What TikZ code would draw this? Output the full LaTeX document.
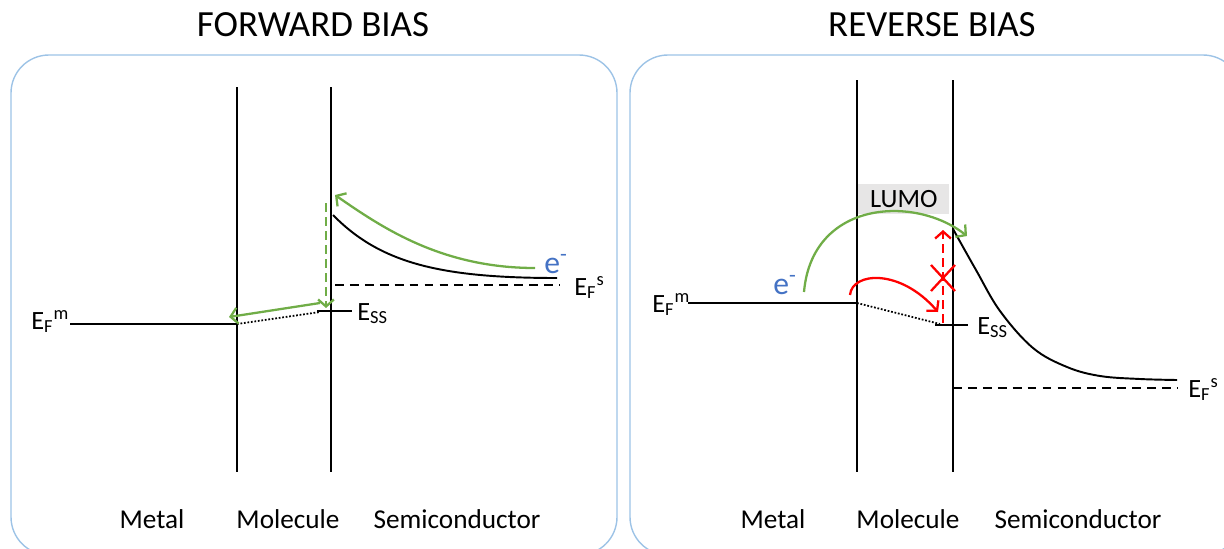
\documentclass[tikz,border=0pt]{standalone}
\usepackage{fontspec}
\setmainfont{Carlito}
\usetikzlibrary{arrows.meta}
\definecolor{boxblue}{HTML}{9DC3E6}
\definecolor{grn}{HTML}{70AD47}
\definecolor{eblue}{HTML}{4472C4}
\definecolor{lumogray}{HTML}{E7E6E6}
\tikzset{
  panel/.style={draw=boxblue, line width=0.8pt, rounded corners=0.76cm},
  wall/.style={draw=black, line width=1pt},
  level/.style={draw=black, line width=1pt},
  dotlevel/.style={draw=black, line width=1pt, dash pattern=on 1pt off 1pt},
  fermi/.style={draw=black, line width=1pt, dash pattern=on 5pt off 3.5pt},
  band/.style={draw=black, line width=1.1pt},
  garrow/.style={draw=grn, line width=1.3pt, -{Straight Barb[length=4pt,width=9pt]}},
  rarrow/.style={draw=red, line width=1.3pt, -{Straight Barb[length=4pt,width=9pt]}},
  lbl/.style={inner sep=0pt, font=\fontsize{15}{18}\selectfont},
  title/.style={inner sep=0pt, font=\fontsize{21}{25}\selectfont},
  region/.style={inner sep=0pt, font=\fontsize{15.5}{18}\selectfont},
  elec/.style={inner sep=0pt, text=eblue, font=\fontsize{18}{21}\selectfont},
}
\begin{document}
\begin{tikzpicture}[x=0.02cm,y=-0.02cm]
\useasboundingbox (0,0) rectangle (1224,548);
\begin{scope}
\clip (0,0) rectangle (1224,548);
\draw[panel] (11,55) rectangle (617,555);
\draw[panel] (630,55) rectangle (1241,555);
\end{scope}
% titles
\node[title, anchor=base] (t1) at (313,36) {FORWARD BIAS};
\node[title, anchor=base] (t2) at (932,36) {REVERSE BIAS};
% region labels
\node[region, anchor=base] (m1) at (152,528) {Metal};
\node[region, anchor=base] (mo1) at (288,528) {Molecule};
\node[region, anchor=base] (s1) at (457,528) {Semiconductor};
\node[region, anchor=base] (m2) at (773,528) {Metal};
\node[region, anchor=base] (mo2) at (908,528) {Molecule};
\node[region, anchor=base] (s2) at (1078,528) {Semiconductor};

% ================= LEFT PANEL =================
\coordinate (a1t) at (237,87); \coordinate (a1b) at (237,472);
\coordinate (a2t) at (331,87); \coordinate (a2b) at (331,472);
\draw[wall] (a1t) -- (a1b);
\draw[wall] (a2t) -- (a2b);
\coordinate (efmA) at (70,324); \coordinate (efmB) at (237,324);
\draw[level] (efmA) -- (efmB);
\node[lbl, anchor=base west] (efmlabL) at (31,329) {E\textsubscript{F}\textsuperscript{m}};
\coordinate (dotL) at (320,312);
\draw[dotlevel] (efmB) -- (dotL);
\coordinate (essA) at (317,311); \coordinate (essB) at (352,311);
\draw[level] (essA) -- (essB);
\node[lbl, anchor=base west] (esslabL) at (357,320) {E\textsubscript{SS}};
\coordinate (bandA) at (333,215); \coordinate (bandB) at (557,278);
\draw[band] (bandA) .. controls (380,263) and (440,278) .. (bandB);
\coordinate (efsA) at (335,285); \coordinate (efsB) at (560,285);
\draw[fermi] (efsA) -- (efsB);
\node[lbl, anchor=base west] (efslabL) at (574,295) {E\textsubscript{F}\textsuperscript{s}};
\node[elec, anchor=base west] (eL) at (544,273) {e\textsuperscript{-}};
\coordinate (gA) at (535,268); \coordinate (gB) at (335,195);
\draw[garrow] (gA) .. controls (440,268) and (380,226) .. (gB);
\coordinate (gdA) at (326,203); \coordinate (gdB) at (326,308);
\draw[garrow, dash pattern=on 5pt off 3pt] (gdA) -- (gdB);
\coordinate (gsA) at (320,303); \coordinate (gsB) at (229,317);
\draw[garrow] (gsA) -- (gsB);

% ================= RIGHT PANEL =================
\node[fill=lumogray, minimum width=91*0.02cm, minimum height=30*0.02cm, inner sep=0pt, anchor=north west, font=\fontsize{15}{18}\selectfont] (lumo) at (858,184) {LUMO};
\coordinate (b1t) at (857,80); \coordinate (b1b) at (857,472);
\coordinate (b2t) at (953,80); \coordinate (b2b) at (953,472);
\draw[wall] (b1t) -- (b1b);
\draw[wall] (b2t) -- (b2b);
\coordinate (efmC) at (688,303); \coordinate (efmD) at (857,303);
\draw[level] (efmC) -- (efmD);
\node[lbl, anchor=base west] (efmlabR) at (652,312) {E\textsubscript{F}\textsuperscript{m}};
\coordinate (dotR) at (940,324);
\draw[dotlevel] (efmD) -- (dotR);
\coordinate (essC) at (935,325); \coordinate (essD) at (968,325);
\draw[level] (essC) -- (essD);
\node[lbl, anchor=base west] (esslabR) at (977,334) {E\textsubscript{SS}};
\coordinate (bandC) at (953,229);
\draw[band] plot[smooth, tension=0.6] coordinates {(953,229) (976,270) (1000,311) (1033,348) (1067,367) (1100,376) (1140,379) (1177,380)};
\coordinate (efsC) at (953,388); \coordinate (efsD) at (1178,388);
\draw[fermi] (efsC) -- (efsD);
\node[lbl, anchor=base west] (efslabR) at (1188,397) {E\textsubscript{F}\textsuperscript{s}};
\node[elec, anchor=base west] (eR) at (773,294) {e\textsuperscript{-}};
\coordinate (gC) at (804,292); \coordinate (gD) at (967,236);
\draw[garrow] (gC) .. controls (812,200) and (915,195) .. (gD);
\coordinate (rA) at (850,295); \coordinate (rB) at (938,312);
\draw[rarrow] (rA) .. controls (852,272) and (900,268) .. (rB);
\coordinate (rdA) at (943,323); \coordinate (rdB) at (943,230);
\draw[rarrow, dash pattern=on 5pt off 3pt] (rdA) -- (rdB);
\coordinate (xc) at (943,278);
\draw[red, line width=1.3pt] ([shift={(-12,-13)}]xc) -- ([shift={(12,13)}]xc);
\draw[red, line width=1.3pt] ([shift={(-12,13)}]xc) -- ([shift={(12,-13)}]xc);
\end{tikzpicture}
\end{document}
